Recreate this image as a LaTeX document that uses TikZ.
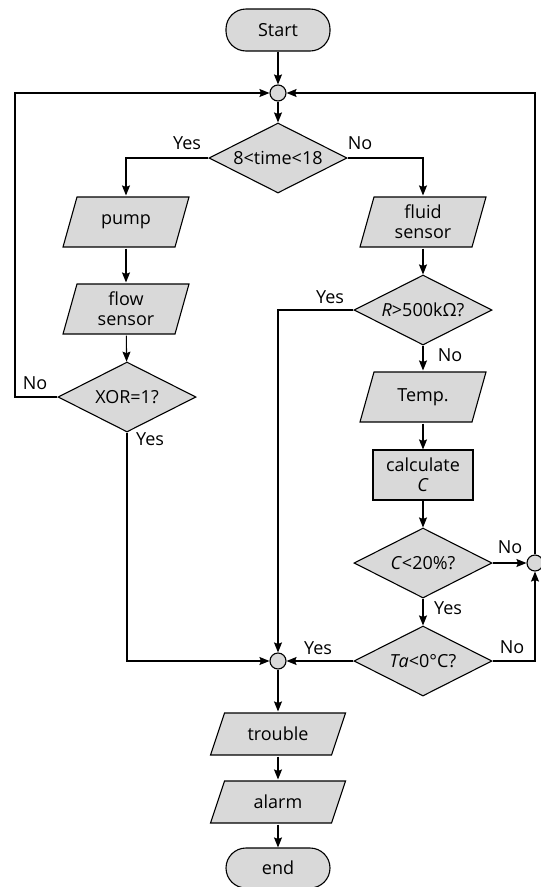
\documentclass[tikz,border=0pt]{standalone}
\usepackage{fontspec}
\setmainfont{Open Sans}
\usetikzlibrary{shapes.geometric,arrows.meta}
\tikzset{
  base/.style={draw, line width=1.1pt, fill=gray!30, font=\fontsize{18}{20}\selectfont, align=center, inner sep=0pt},
  term/.style={base, rounded corners=20pt, minimum width=104pt, minimum height=42pt},
  io/.style={base, draw=none, fill=none, rectangle, minimum width=128pt, minimum height=52pt,
    path picture={\draw[line width=1.1pt, fill=gray!30]
      ([xshift=15pt,yshift=-1pt]path picture bounding box.north west) --
      ([xshift=-1pt,yshift=-1pt]path picture bounding box.north east) --
      ([xshift=-15pt,yshift=1pt]path picture bounding box.south east) --
      ([xshift=1pt,yshift=1pt]path picture bounding box.south west) -- cycle;}},
  proc/.style={base, rectangle, minimum width=100pt, minimum height=50pt},
  decide/.style={base, diamond, aspect=2, minimum width=138pt, minimum height=70pt},
  junc/.style={base, circle, minimum size=16pt},
  lbl/.style={font=\fontsize{18}{20}\selectfont},
  arr/.style={line width=1.1pt, -{Stealth[length=10pt,width=8pt,inset=1.5pt]}}
}
\begin{document}
\begin{tikzpicture}[x=1pt,y=-1pt]
  \useasboundingbox (0,0) rectangle (541,887);
  % Place the nodes
  \node[term] (start) at (278,30) {Start};
  \node[junc] (jtop) at (278,93) {};
  \node[decide] (dtime) at (278,158) {8<time<18};
  \node[io] (pump) at (126,222) {pump};
  \node[io] (flow) at (126,309) {flow\\sensor};
  \node[decide] (dxor) at (127,397) {XOR=1?};
  \node[io] (fluid) at (423,222) {fluid\\sensor};
  \node[decide] (dres) at (423,310) {\textit{R}>500kΩ?};
  \node[io] (temp) at (423,397) {Temp.};
  \node[proc] (calc) at (423,475) {calculate\\\textit{C}};
  \node[decide] (dconc) at (423,563) {\textit{C}<20\%?};
  \node[junc] (jright) at (535,563) {};
  \node[decide] (dtemp) at (423,661) {\textit{Ta}<0°C?};
  \node[junc] (jbot) at (278,661) {};
  \node[io, minimum width=137pt, minimum height=44pt] (trouble) at (278,734) {trouble};
  \node[io, minimum width=137pt, minimum height=44pt] (alarm) at (278,802) {alarm};
  \node[term, minimum height=40pt] (end) at (278,868) {end};
  \coordinate (lcorner) at (15,397);
  % Draw the main line
  \draw[arr] (start) -- (jtop);
  \draw[arr] (jtop) -- (dtime);
  \draw[arr] (dtime.west) -| (pump.north);
  \draw[arr] (dtime.east) -| (fluid.north);
  % Draw the left branch
  \draw[arr] (pump) -- (flow);
  \draw[arr] (flow) -- (dxor);
  \draw[arr] (dxor.west) -- (lcorner) |- (jtop.west);
  \draw[arr] (dxor.south) |- (jbot.west);
  % Draw the right branch
  \draw[arr] (fluid) -- (dres);
  \draw[arr] (dres.west) -| (jbot.north);
  \draw[arr] (dres) -- (temp);
  \draw[arr] (temp) -- (calc);
  \draw[arr] (calc) -- (dconc);
  \draw[arr] (dconc.east) -- (jright.west);
  \draw[arr] (dconc) -- (dtemp);
  \draw[arr] (dtemp.east) -| (jright.south);
  \draw[arr] (dtemp.west) -- (jbot.east);
  \draw[arr] (jright.north) |- (jtop.east);
  % Draw the end
  \draw[arr] (jbot) -- (trouble);
  \draw[arr] (trouble) -- (alarm);
  \draw[arr] (alarm) -- (end);
  % Place the labels
  \node[lbl] (ytime) at (187,143) {Yes};
  \node[lbl] (ntime) at (360,143) {No};
  \node[lbl] (nxor) at (35,383) {No};
  \node[lbl] (yxor) at (150,439) {Yes};
  \node[lbl] (yres) at (330,297) {Yes};
  \node[lbl] (nres) at (450,355) {No};
  \node[lbl] (nconc) at (510,547) {No};
  \node[lbl] (yconc) at (448,608) {Yes};
  \node[lbl] (ntemp) at (512,647) {No};
  \node[lbl] (ytemp) at (318,648) {Yes};
\end{tikzpicture}
\end{document}
